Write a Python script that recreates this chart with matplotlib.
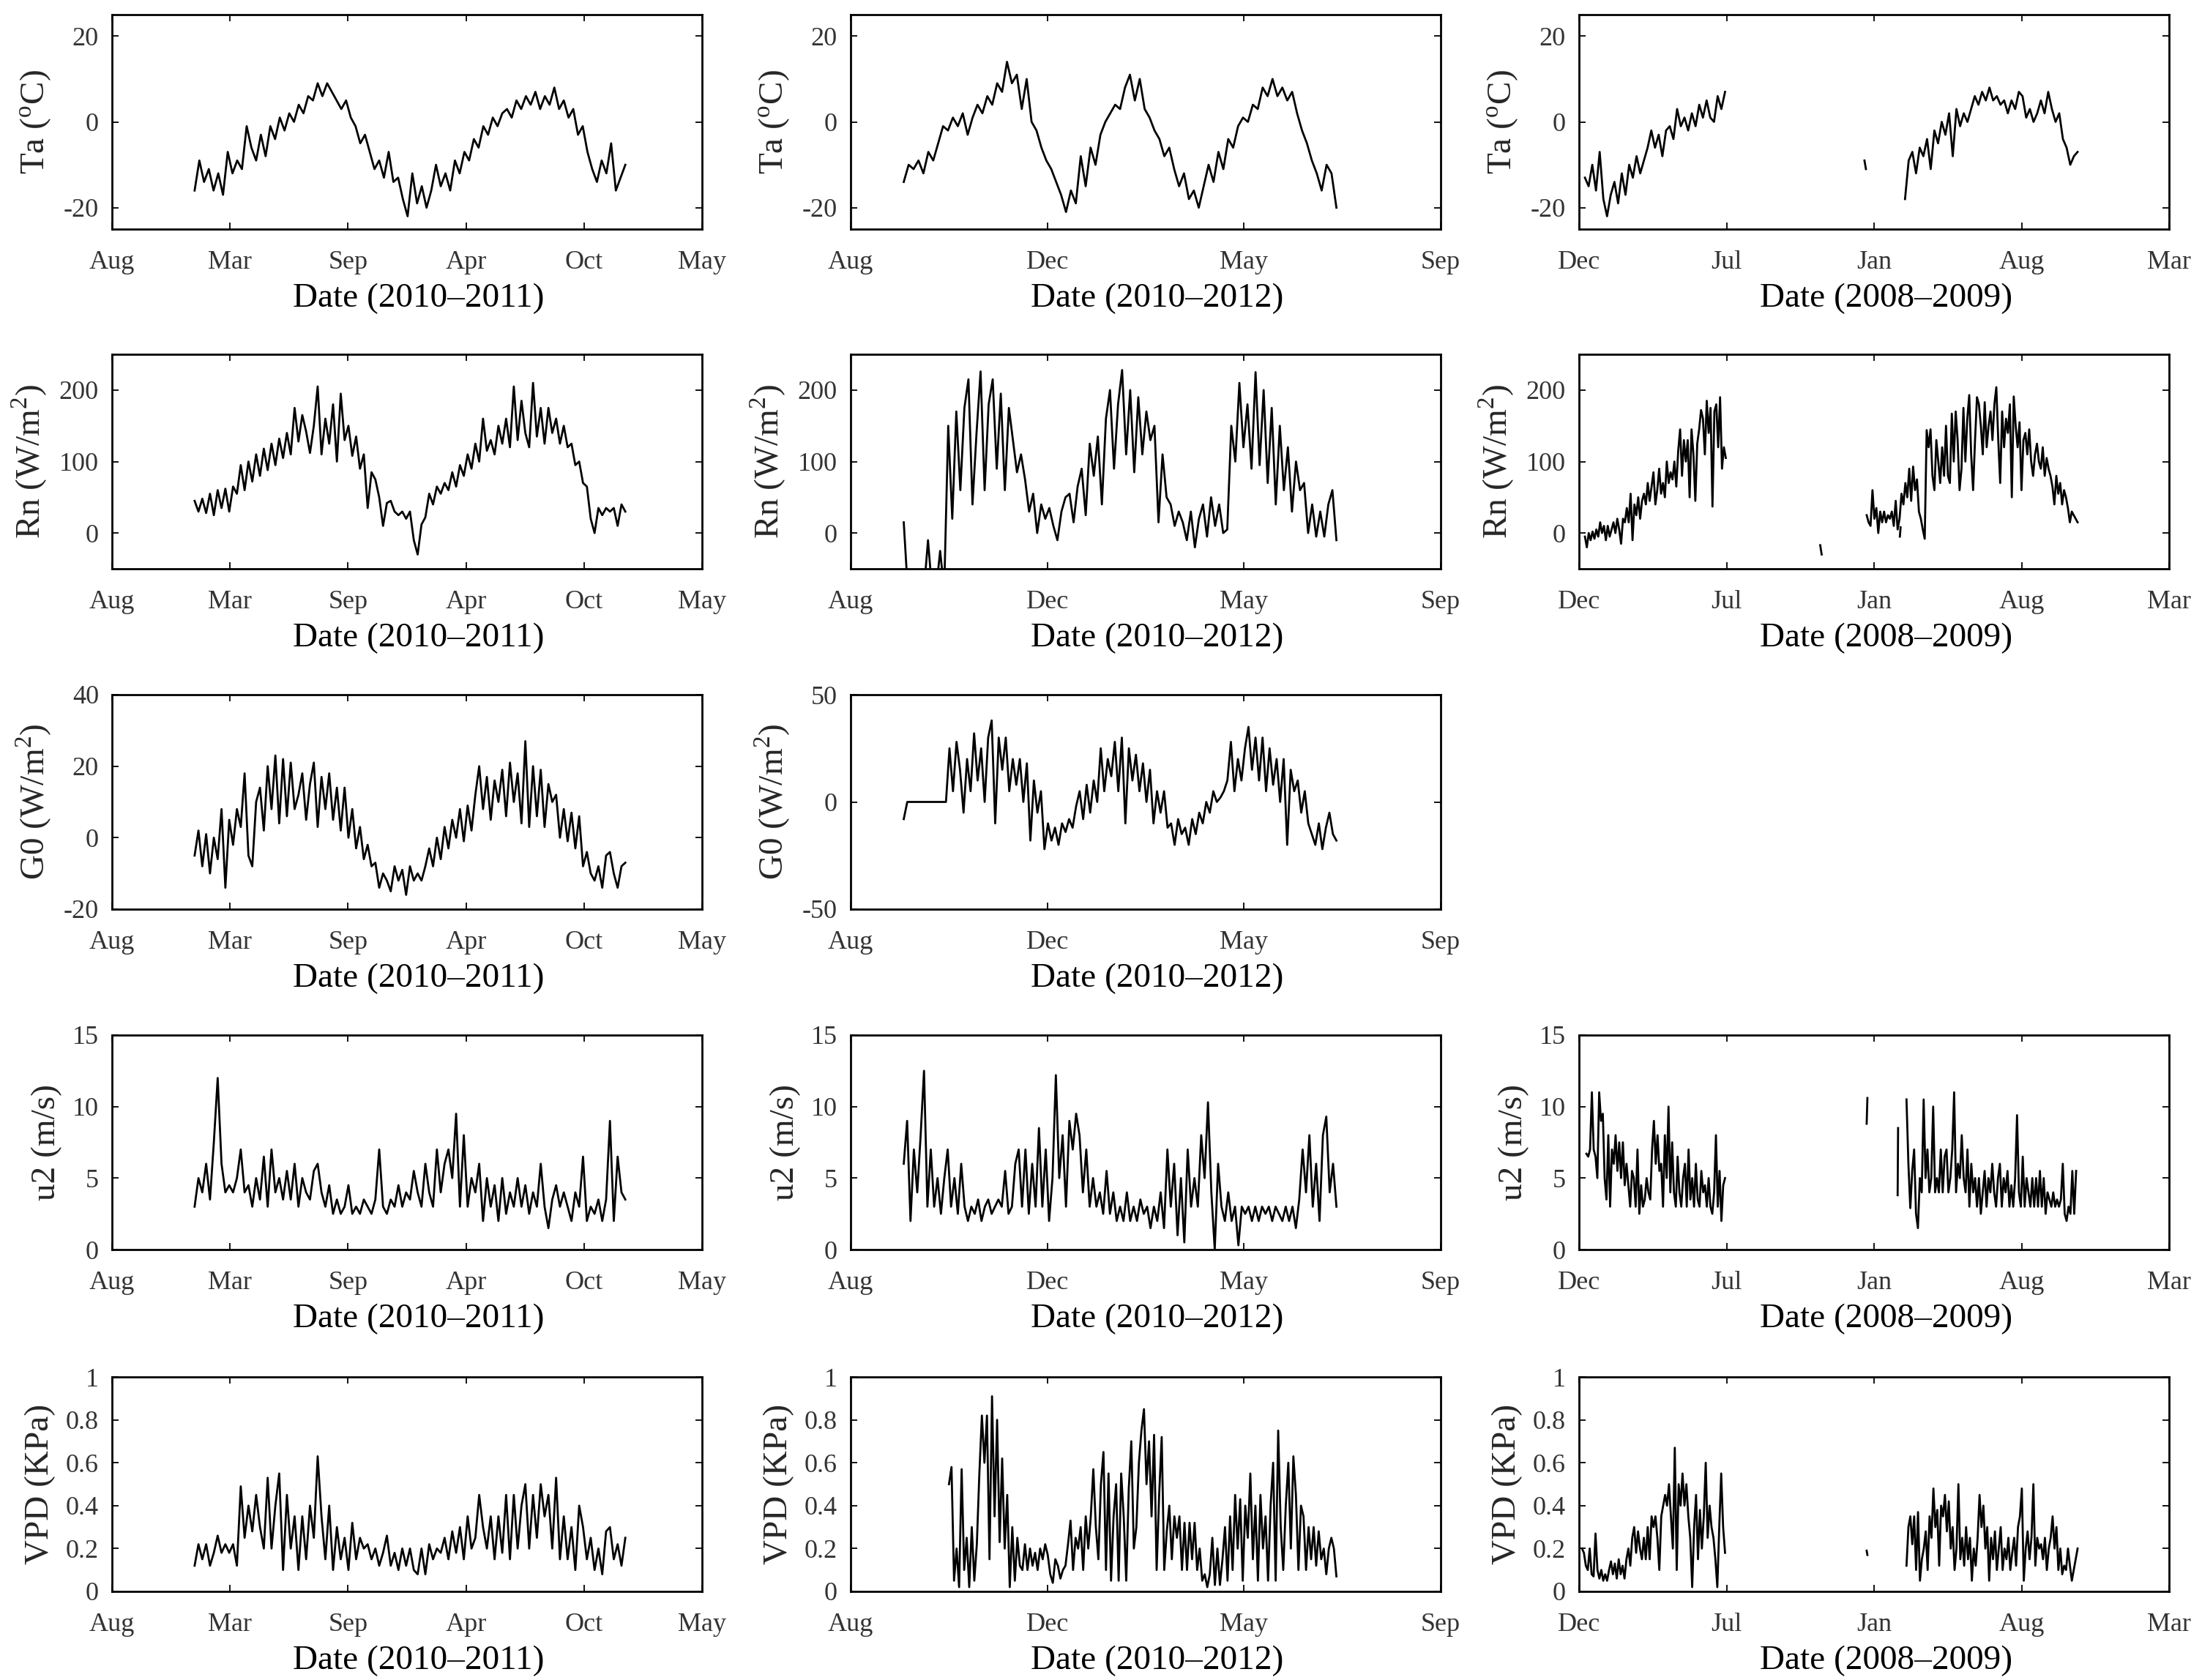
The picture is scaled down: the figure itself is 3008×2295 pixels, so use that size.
import numpy as np
import matplotlib.pyplot as plt

plt.rcParams['font.family'] = ['Liberation Serif', 'DejaVu Serif']
plt.rcParams['mathtext.fontset'] = 'custom'
plt.rcParams['mathtext.rm'] = 'Liberation Serif'
plt.rcParams['axes.unicode_minus'] = False

# tick labels (MATLAB datetick style, evenly spaced)
months_1011 = ['Aug', 'Mar', 'Sep', 'Apr', 'Oct', 'May']
months_1012 = ['Aug', 'Dec', 'May', 'Sep']
months_0809 = ['Dec', 'Jul', 'Jan', 'Aug', 'Mar']
xlabels = ['Date (2010\u20132011)', 'Date (2010\u20132012)', 'Date (2008\u20132009)']

# time spans of the records, in tick units of each column
span_1011 = (0.70, 4.35)
span_1012 = (0.27, 2.47)

# ---- 2010-2011 site ----
ta_1011 = [-16, -9, -14, -11, -16, -12, -17, -7, -12, -9, -11, -1, -6, -9, -3, -8, -1, -4, 1, -2,
           2, 0, 4, 2, 6, 5, 9, 6, 9, 7, 5, 3, 5, 1, -1, -5, -3, -7, -11, -9,
           -13, -7, -14, -13, -18, -22, -12, -19, -15, -20, -16, -10, -15, -12, -16, -9, -12, -7, -9, -4,
           -6, -1, -3, 1, -1, 2, 3, 1, 5, 3, 6, 4, 7, 3, 6, 4, 8, 3, 5, 1,
           3, -3, -1, -7, -11, -14, -9, -12, -5, -16, -13, -10]
rn_1011 = [45, 30, 48, 28, 55, 25, 60, 35, 62, 30, 65, 55, 95, 60, 100, 72, 110, 80, 118, 88,
           125, 95, 132, 105, 140, 110, 175, 128, 165, 142, 112, 150, 205, 110, 160, 125, 180, 100, 195, 130,
           150, 108, 135, 90, 110, 35, 85, 75, 50, 10, 42, 45, 30, 25, 30, 20, 30, -10, -30, 12,
           22, 55, 40, 65, 55, 70, 60, 85, 65, 95, 80, 110, 90, 125, 100, 160, 115, 130, 110, 150,
           125, 160, 120, 205, 130, 185, 140, 120, 210, 135, 175, 125, 175, 140, 160, 125, 150, 120, 125, 95,
           100, 70, 65, 20, 0, 35, 25, 35, 30, 35, 10, 40, 30]
g0_1011 = [-5, 2, -8, 1, -10, 0, -6, 8, -14, 5, -2, 8, 3, 18, -5, -8, 10, 14, 2, 20,
           8, 23, 4, 22, 6, 21, 8, 12, 18, 5, 15, 21, 3, 17, 8, 18, 5, 14, 2, 14,
           0, 8, -3, 3, -6, -2, -8, -7, -14, -10, -12, -15, -8, -12, -9, -16, -8, -12, -10, -12,
           -8, -3, -8, 0, -6, 3, -3, 5, 0, 8, -1, 9, 2, 12, 20, 8, 17, 5, 16, 10,
           19, 6, 21, 10, 18, 4, 27, 3, 20, 6, 19, 3, 15, 10, 12, 0, 8, -1, 7, -3,
           6, -8, -4, -10, -12, -8, -14, -5, -4, -10, -14, -8, -7]
u2_1011 = [3, 5, 4, 6, 3.5, 7.5, 12, 6, 4, 4.5, 4, 5, 7, 4, 4.5, 3, 5, 3.5, 6.5, 3,
           7, 4, 5, 3.5, 5.5, 3.5, 6, 3, 5, 4, 3.5, 5.5, 6, 4, 3, 4.5, 2.5, 3.5, 2.5, 3,
           4.5, 2.5, 3, 2.5, 3.5, 3, 2.5, 3.5, 7, 3, 2.5, 3.5, 3, 4.5, 3, 4, 3.5, 5.5, 4, 3,
           6, 4, 3, 7, 4, 6, 7, 5, 9.5, 3, 8, 3, 5, 4, 6, 2, 5, 3, 4.5, 2,
           5, 2.5, 4, 3, 5, 3, 4.5, 2.5, 4, 3, 6, 3, 1.5, 3.5, 4.5, 3, 4, 3, 2, 4,
           3, 6.5, 2, 3, 2.5, 3.5, 2, 3.5, 9, 2, 6.5, 4, 3.5]
vpd_1011 = [0.12, 0.22, 0.15, 0.22, 0.12, 0.18, 0.26, 0.18, 0.22, 0.18,
            0.22, 0.12, 0.49, 0.25, 0.40, 0.28, 0.45, 0.30, 0.20, 0.53,
            0.20, 0.40, 0.55, 0.10, 0.45, 0.20, 0.35, 0.10, 0.35, 0.15,
            0.40, 0.25, 0.63, 0.35, 0.15, 0.40, 0.10, 0.30, 0.15, 0.25,
            0.10, 0.32, 0.15, 0.25, 0.20, 0.22, 0.15, 0.20, 0.12, 0.18,
            0.26, 0.12, 0.18, 0.10, 0.20, 0.12, 0.20, 0.10, 0.08, 0.20,
            0.08, 0.22, 0.15, 0.20, 0.18, 0.25, 0.15, 0.28, 0.18, 0.30,
            0.15, 0.35, 0.20, 0.25, 0.45, 0.30, 0.20, 0.35, 0.15, 0.35,
            0.18, 0.45, 0.15, 0.45, 0.20, 0.40, 0.50, 0.20, 0.45, 0.25,
            0.50, 0.35, 0.45, 0.20, 0.53, 0.15, 0.35, 0.15, 0.30, 0.10,
            0.40, 0.30, 0.15, 0.25, 0.10, 0.20, 0.08, 0.28, 0.30, 0.15,
            0.22, 0.12, 0.25]

# ---- 2010-2012 site ----
ta_1012 = [-14, -10, -11, -9, -12, -7, -9, -5, -1, -2, 1, -1, 2, -3, 1, 4, 2, 6, 4, 9,
           7, 14, 9, 11, 3, 10, 0, -2, -6, -9, -11, -14, -17, -21, -16, -19, -8, -15, -6, -10,
           -3, 0, 2, 4, 3, 8, 11, 5, 10, 3, 1, -2, -4, -8, -6, -11, -15, -12, -18, -16,
           -20, -15, -10, -14, -7, -11, -4, -6, -1, 1, 0, 4, 3, 8, 6, 10, 6, 8, 5, 7,
           2, -2, -5, -9, -12, -16, -10, -12, -20]
# values below -50 fall outside the panel (early gaps in the record)
rn_1012 = [15, -80, -80, -80, -80, -80, -10, -80, -80, -25, -80,
           150, 20, 170, 60, 175, 215, 40, 140, 226, 60, 180, 215, 90, 195, 60, 175, 130, 85, 110, 75,
           30, 55, 0, 40, 20, 35, 10, -10, 30, 50, 55, 15, 65, 90, 25, 125, 80, 135, 40, 160,
           200, 90, 180, 228, 110, 200, 85, 190, 110, 170, 130, 150, 15, 110, 50, 40, 10, 30, 15, -10,
           30, -20, 20, 40, -5, 50, 10, 40, 0, 5, 150, 100, 210, 120, 180, 90, 225, 95, 200, 70,
           175, 40, 150, 60, 120, 30, 100, 60, 70, 0, 40, -5, 30, -5, 40, 60, -10]
g0_1012 = [-8, 0, 0, 0, 0, 0, 0, 0, 0, 0, 0, 0, 0,
           25, 5, 28, 15, -5, 20, 5, 32, 10, 25, 0, 30, 38, -10, 30, 15, 30, 5, 20, 8,
           20, 0, 18, -18, 10, -5, 5, -22, -10, -18, -12, -20, -10, -14, -8, -12, -2, 5, -8, 8,
           -5, 10, 0, 25, 5, 20, 12, 28, 5, 30, -10, 25, 10, 22, 5, 18, 0, 15, -10, 5,
           -5, 5, -12, -10, -20, -8, -15, -12, -20, -8, -15, -5, -10, 0, -5, 5, 0, 2, 5, 10,
           28, 5, 20, 10, 25, 35, 15, 30, 10, 30, 5, 25, 8, 20, 0, 20, -20, 15, 5, 10,
           -5, 5, -10, -15, -20, -10, -22, -12, -5, -15, -18]
u2_1012 = [6, 9, 2, 7, 4, 8, 12.5, 3, 7, 3, 5, 2.5, 5,
           7, 3, 5, 2.5, 6, 3, 2, 3, 2.5, 3.5, 2, 3, 3.5, 2.5, 3, 3.5, 3, 5.5, 2.5, 3,
           6, 7, 3, 7, 2.5, 6, 3, 8.5, 3, 7, 2, 5, 12.2, 5, 8, 3, 9, 7, 9.5, 8,
           4, 7, 3, 5, 3, 4, 2.5, 5.5, 2.5, 4, 2, 3, 2, 4, 2, 3, 2, 3.5, 2.5, 3,
           1.5, 3, 2, 4, 1.5, 7, 3, 6, 1, 5, 0.5, 7, 3, 5, 3, 8, 5, 10.3, 4, 0,
           6, 3, 2, 4, 2, 3, 0.3, 3, 2.5, 3, 2, 3, 2, 3, 2.5, 3, 2, 3, 2.5, 2,
           3, 2, 3, 1.5, 3.5, 7, 4, 8, 3, 6, 2, 8, 9.3, 4, 6, 3]
vpd_1012 = [0.50, 0.58, 0.05, 0.20, 0.02, 0.57, 0.10, 0.25, 0.02, 0.30, 0.05, 0.22, 0.55,
            0.82, 0.60, 0.82, 0.15, 0.91, 0.35, 0.80, 0.23, 0.62, 0.20, 0.45, 0.02,
            0.30, 0.05, 0.25, 0.12, 0.10, 0.22, 0.10, 0.20, 0.12, 0.18, 0.10, 0.20, 0.15,
            0.22, 0.17, 0.08, 0.04, 0.15, 0.12, 0.06, 0.10, 0.12,
            0.22, 0.33, 0.10, 0.25, 0.20, 0.30, 0.10,
            0.35, 0.20, 0.35, 0.57, 0.30, 0.15, 0.50, 0.65, 0.10, 0.55,
            0.05, 0.35, 0.50, 0.05, 0.55, 0.35, 0.05, 0.48, 0.70, 0.20,
            0.30, 0.60, 0.75, 0.85, 0.50, 0.70, 0.35, 0.73, 0.10, 0.45,
            0.72, 0.10, 0.28, 0.40, 0.15, 0.35, 0.25, 0.35, 0.10, 0.32,
            0.10, 0.32, 0.15, 0.32, 0.10, 0.20, 0.05, 0.08, 0.02, 0.08,
            0.25, 0.03, 0.20, 0.03, 0.15, 0.30, 0.05, 0.35, 0.10, 0.45,
            0.20, 0.43, 0.05, 0.40, 0.25, 0.55, 0.15, 0.40, 0.05, 0.45,
            0.20, 0.35, 0.05, 0.40, 0.60, 0.05, 0.75, 0.30, 0.10, 0.40,
            0.60, 0.20, 0.63, 0.45, 0.10, 0.40, 0.35, 0.10, 0.30, 0.15,
            0.30, 0.12, 0.28, 0.15, 0.20, 0.08, 0.20, 0.25, 0.20, 0.07]

# ---- 2008-2009 site (record has gaps: several pieces) ----
ta_0809_a = [-13, -15, -10, -16, -7, -18, -22, -17, -14, -19, -12, -17, -10, -13, -8, -12, -9, -6, -2, -6,
             -3, -8, -2, -1, -4, 3, -1, 1, -2, 2, -1, 4, 1, 5, 1, 0, 6, 3, 7]
ta_0809_b = [-9, -11]
ta_0809_c = [-18, -9, -7, -12, -6, -8, -4, -11, -2, -5, 0, -3, 2, -8, 3, -1, 2, 0, 3, 6,
             4, 7, 5, 8, 5, 6, 4, 5, 2, 5, 3, 7, 6, 1, 3, 0, 2, 5, 2, 7,
             3, 0, 2, -4, -6, -10, -8, -7]
rn_0809_a = [-5, -20, 0, -10, 2, -8, 5, -5, 15, 0, 10, -10, 10, -5, 5, 15, 0, 20, 5, -15,
             20, 15, 35, 15, 55, -10, 40, 25, 50, 20, 45, 55, 40, 70, 45, 65, 85, 40, 60, 90,
             55, 70, 50, 100, 70, 85, 75, 100, 65, 115, 145, 80, 130, 100, 130, 50, 145, 110, 45, 125,
             145, 172, 160, 110, 185, 140, 175, 37, 170, 180, 120, 190, 90, 120, 105]
rn_0809_b = [-17, -30]
rn_0809_c = [25, 15, 10, 60, 20, 35, 0, 30, 15, 30, 15, 25, 20, 30, 10, 45, 5, 20, 55, 40,
             70, 50, 90, 45, 93, 60, 75, 30, 20, 5, -8, 144, 120, 145, 80, 60, 130, 100, 70, 120,
             80, 150, 80, 70, 167, 100, 170, 130, 60, 90, 175, 100, 160, 193, 110, 60, 130, 190, 180, 150,
             110, 183, 120, 150, 170, 130, 180, 204, 130, 70, 170, 120, 160, 140, 180, 50, 191, 150, 120, 155,
             60, 130, 140, 110, 145, 100, 80, 110, 125, 100, 90, 120, 80, 105, 90, 80, 65, 40, 80, 55,
             70, 40, 60, 50, 35, 15, 30, 25, 20, 15]
rn_0809_d = [-5, 8]
u2_0809_a = [6.7, 6.5, 7, 11, 7, 6.5, 5, 11, 9, 9.5, 5, 3.5, 8, 3, 7, 6, 8, 5.5, 7.5, 5,
             7.5, 4.5, 6, 4.5, 3, 5.5, 5, 3, 7, 2.5, 4.5, 3, 3.5, 5, 4, 3.5, 7, 9, 6, 8,
             5.5, 6, 3, 8, 5, 10, 4, 7.5, 4, 3, 6.5, 4, 3, 5, 6, 3, 7, 3.5, 5, 3,
             6, 3.5, 3, 5.5, 4, 4.5, 3, 5, 3, 2.5, 4, 8, 3, 5.5, 2, 4.5, 5]
u2_0809_b = [8.8, 10.6]
u2_0809_c = [3.8, 8.5]
u2_0809_d = [10.5, 6, 2.9, 5.5, 7, 2.5, 1.5, 5, 4, 10.5, 5, 7, 4, 5, 10, 4, 5, 4, 7, 4,
             6.5, 7, 4, 5, 7, 11, 4, 6, 5, 8, 5, 4, 7, 3, 6, 4, 5, 3, 5, 2.5,
             4, 5.5, 3, 5, 4, 6, 4, 3, 5, 6, 3, 5, 4, 5.5, 3, 4.5, 3, 5, 9.4, 4,
             3, 6.5, 3, 5, 4, 3, 5, 3, 5, 3, 5.5, 3, 5, 2.5, 4, 3.5, 3, 4, 3, 3.5,
             3, 3.5, 6, 2.5, 2, 3, 2.5, 5.5, 2.5, 5.5]
vpd_0809_a = [0.20, 0.18, 0.12, 0.10, 0.20, 0.08, 0.07, 0.27, 0.10, 0.06,
              0.10, 0.05, 0.08, 0.05, 0.10, 0.14, 0.08, 0.13, 0.06, 0.15,
              0.08, 0.12, 0.06, 0.15, 0.20, 0.12, 0.25, 0.30, 0.18, 0.28,
              0.20, 0.15, 0.25, 0.15, 0.30, 0.15, 0.35, 0.30, 0.35, 0.25,
              0.10, 0.35, 0.40, 0.45, 0.40, 0.50, 0.35, 0.20, 0.67, 0.10,
              0.50, 0.40, 0.55, 0.40, 0.50, 0.35, 0.25, 0.02, 0.30, 0.45,
              0.15, 0.38, 0.20, 0.35, 0.60, 0.25, 0.40, 0.30, 0.25, 0.15,
              0.02, 0.30, 0.55, 0.30, 0.18]
vpd_0809_b = [0.19, 0.17]
vpd_0809_c = [0.12, 0.30, 0.35, 0.22, 0.35, 0.10, 0.37, 0.05, 0.15, 0.20,
              0.28, 0.10, 0.35, 0.25, 0.48, 0.30, 0.38, 0.12, 0.40, 0.35,
              0.45, 0.28, 0.42, 0.20, 0.30, 0.10, 0.20, 0.50, 0.15, 0.25,
              0.12, 0.30, 0.15, 0.25, 0.05, 0.20, 0.12, 0.25, 0.45, 0.30,
              0.40, 0.20, 0.30, 0.05, 0.25, 0.15, 0.28, 0.10, 0.20, 0.30,
              0.10, 0.20, 0.15, 0.25, 0.10, 0.18, 0.25, 0.12, 0.30, 0.35,
              0.48, 0.05, 0.20, 0.28, 0.15, 0.25, 0.50, 0.12, 0.25, 0.20,
              0.22, 0.15, 0.25, 0.10, 0.20, 0.25, 0.35, 0.20, 0.30, 0.10,
              0.20, 0.08, 0.12, 0.10, 0.20, 0.12, 0.05, 0.10, 0.15, 0.20]

# pieces of each panel: (start, end) in tick units + values
panels = {
    (0, 0): [(span_1011, ta_1011)],
    (0, 1): [(span_1012, ta_1012)],
    (0, 2): [((0.04, 0.99), ta_0809_a), ((1.935, 1.945), ta_0809_b), ((2.21, 3.38), ta_0809_c)],
    (1, 0): [(span_1011, rn_1011)],
    (1, 1): [(span_1012, rn_1012)],
    (1, 2): [((0.04, 0.995), rn_0809_a), ((1.635, 1.645), rn_0809_b), ((1.95, 3.38), rn_0809_c),
             ((2.175, 2.18), rn_0809_d)],
    (2, 0): [(span_1011, g0_1011)],
    (2, 1): [(span_1012, g0_1012)],
    (3, 0): [(span_1011, u2_1011)],
    (3, 1): [(span_1012, u2_1012)],
    (3, 2): [((0.05, 0.99), u2_0809_a), ((1.95, 1.955), u2_0809_b), ((2.16, 2.163), u2_0809_c),
             ((2.22, 3.37), u2_0809_d)],
    (4, 0): [(span_1011, vpd_1011)],
    (4, 1): [((0.50, 2.47), vpd_1012)],
    (4, 2): [((0.02, 0.99), vpd_0809_a), ((1.95, 1.955), vpd_0809_b), ((2.22, 3.38), vpd_0809_c)],
}

row_ylabel = [r'Ta ($^{\rm o}$C)', r'Rn (W/m$^{2}$)', r'G0 (W/m$^{2}$)', 'u2 (m/s)', 'VPD (KPa)']
row_ylim = [(-25, 25), (-50, 250), None, (0, 15), (0, 1)]
row_yticks = [[-20, 0, 20], [0, 100, 200], None, [0, 5, 10, 15], [0, 0.2, 0.4, 0.6, 0.8, 1]]
g0_ylim = [(-20, 40), (-50, 50)]
g0_yticks = [[-20, 0, 20, 40], [-50, 0, 50]]
col_months = [months_1011, months_1012, months_0809]

W, H = 3008, 2295
fig = plt.figure(figsize=(W / 100, H / 100), dpi=100)

col_left = [153, 1162, 2157]
row_top = [20, 484, 949, 1414, 1881]
ax_w, ax_h = 806, 293

for (r, c), pieces in panels.items():
    ax = fig.add_axes([col_left[c] / W, 1 - (row_top[r] + ax_h) / H, ax_w / W, ax_h / H])
    for (x0, x1), vals in pieces:
        xs = np.linspace(x0, x1, len(vals))
        ax.plot(xs, vals, color='k', lw=2.0)

    months = col_months[c]
    ax.set_xlim(0, len(months) - 1)
    ax.set_xticks(np.arange(len(months)))
    ax.set_xticklabels(months)

    if r == 2:
        ax.set_ylim(*g0_ylim[c])
        ax.set_yticks(g0_yticks[c])
    else:
        ax.set_ylim(*row_ylim[r])
        ax.set_yticks(row_yticks[r])
    if r == 4:
        ax.set_yticklabels(['0', '0.2', '0.4', '0.6', '0.8', '1'])

    ax.tick_params(direction='in', length=6.5, width=1.3, top=True, right=True,
                   labelsize=26, labelcolor='#333333')
    ax.tick_params(axis='x', pad=21)
    ax.tick_params(axis='y', pad=13)
    for sp in ax.spines.values():
        sp.set_linewidth(2.0)

    ax.set_ylabel(row_ylabel[r], fontsize=34, color='#262626', labelpad=10)
    ax.set_xlabel(xlabels[c], fontsize=34, color='k')
    ax.xaxis.set_label_coords(0.52, -0.25)

fig.savefig('out.png', dpi=100, facecolor='white')
